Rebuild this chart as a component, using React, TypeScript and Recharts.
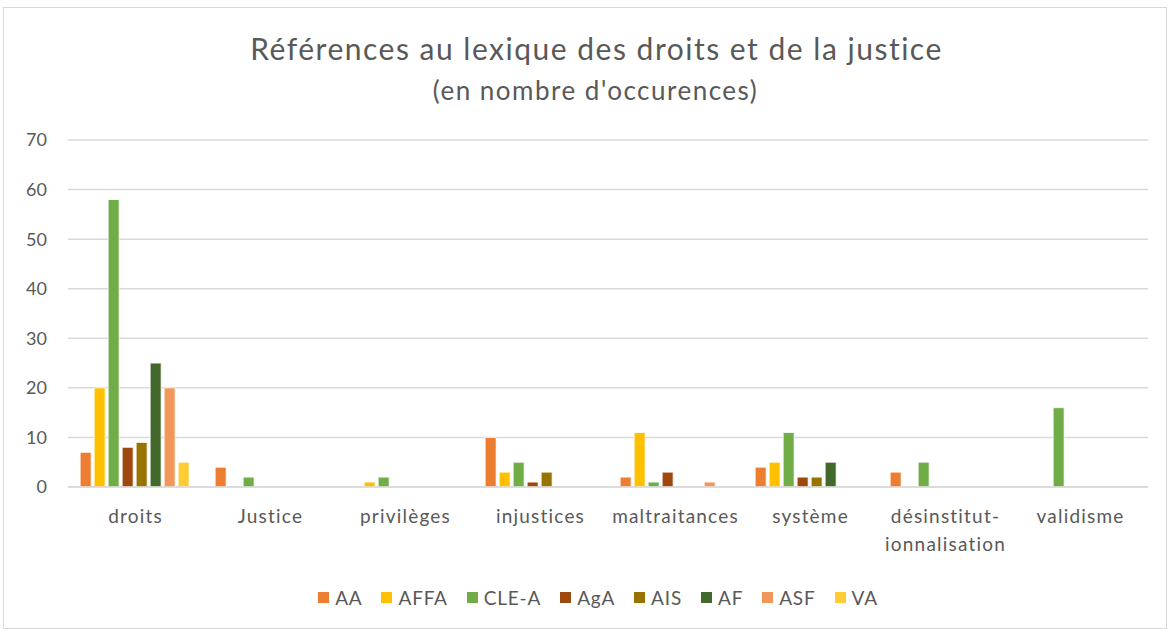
import React from "react";
import { BarChart, Bar, XAxis, YAxis, CartesianGrid } from "recharts";

const categories = ["droits", "Justice", "privilèges", "injustices", "maltraitances", "système", "désinstitut-\nionnalisation", "validisme"];
const AA = [7, 4, 0, 10, 2, 4, 3, 0];
const AFFA = [20, 0, 1, 3, 11, 5, 0, 0];
const CLEA = [58, 2, 2, 5, 1, 11, 5, 16];
const AgA = [8, 0, 0, 1, 3, 2, 0, 0];
const AIS = [9, 0, 0, 3, 0, 2, 0, 0];
const AF = [25, 0, 0, 0, 0, 5, 0, 0];
const ASF = [20, 0, 0, 0, 1, 0, 0, 0];
const VA = [5, 0, 0, 0, 0, 0, 0, 0];
const yTicks = [0, 10, 20, 30, 40, 50, 60, 70];

const seriesList = [
  { key: "AA", values: AA, color: "#ED7D31" },
  { key: "AFFA", values: AFFA, color: "#FFC000" },
  { key: "CLE-A", values: CLEA, color: "#70AD47" },
  { key: "AgA", values: AgA, color: "#9E480E" },
  { key: "AIS", values: AIS, color: "#997300" },
  { key: "AF", values: AF, color: "#43682B" },
  { key: "ASF", values: ASF, color: "#F1975A" },
  { key: "VA", values: VA, color: "#FFCD33" },
];

const data = categories.map((c, i) => {
  const row: Record<string, any> = { name: c };
  seriesList.forEach((s) => {
    row[s.key] = s.values[i];
  });
  return row;
});

const FONT = "Lato, 'Open Sans', sans-serif";
const TEXT = "#595959";

const XTick = (props: any) => {
  const { x, y, payload } = props;
  const lines = String(payload.value).split("\n");
  return (
    <g transform={`translate(${x},${y})`}>
      {lines.map((l, i) => (
        <text key={i} x={0} y={0} dy={28 + i * 28} textAnchor="middle" fill={TEXT} fontSize={19} letterSpacing={1.2} fontFamily={FONT}>
          {l}
        </text>
      ))}
    </g>
  );
};

export default function App() {
  return (
    <div style={{ position: "absolute", left: 0, top: 0, width: 1173, height: 630, background: "#fff", fontFamily: FONT }}>
      <div style={{ position: "absolute", left: 3, top: 7, width: 1162, height: 620, border: "1px solid #D9D9D9" }} />
      <div style={{ position: "absolute", left: 10, top: 30, width: 1173, textAlign: "center", fontSize: 30, letterSpacing: 1.5, color: TEXT }}>
        Références au lexique des droits et de la justice
      </div>
      <div style={{ position: "absolute", left: 9, top: 74, width: 1173, textAlign: "center", fontSize: 26, letterSpacing: 1.5, color: TEXT }}>
        (en nombre d'occurences)
      </div>
      <BarChart
        width={1173}
        height={630}
        data={data}
        margin={{ top: 140, right: 25, bottom: 83, left: 8 }}
        barCategoryGap="9%"
        barGap={3}
        style={{ position: "absolute", left: 0, top: 0 }}
      >
        <CartesianGrid vertical={false} stroke="#D9D9D9" strokeWidth={1.5} />
        <XAxis
          dataKey="name"
          tick={<XTick />}
          tickLine={false}
          axisLine={{ stroke: "#D9D9D9", strokeWidth: 1.5 }}
          interval={0}
          height={60}
        />
        <YAxis
          width={60}
          domain={[0, 70]}
          ticks={yTicks}
          tickLine={false}
          axisLine={false}
          tickMargin={15}
          tick={{ fill: TEXT, fontSize: 18, fontFamily: FONT }}
        />
        {seriesList.map((s) => (
          <Bar key={s.key} dataKey={s.key} name={s.key} fill={s.color} stroke="#FFFFFF" strokeWidth={0.8} isAnimationActive={false} />
        ))}
      </BarChart>
      <div style={{ position: "absolute", left: 21, top: 586, width: 1173, display: "flex", justifyContent: "center", fontSize: 19, letterSpacing: 0.8, color: TEXT }}>
        {seriesList.map((s) => (
          <div key={s.key} style={{ display: "flex", alignItems: "center", marginRight: 19 }}>
            <span style={{ display: "inline-block", width: 11, height: 11, background: s.color, marginRight: 6 }} />
            <span>{s.key}</span>
          </div>
        ))}
      </div>
    </div>
  );
}
